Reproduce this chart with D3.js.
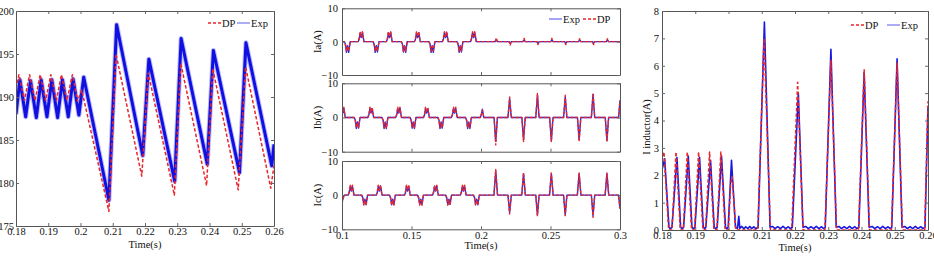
<!DOCTYPE html>
<html>
<head>
<meta charset="utf-8">
<script src="https://cdn.jsdelivr.net/npm/d3@7"></script>
<style>
  body { margin: 0; background: #fff; }
  svg { display: block; }
</style>
</head>
<body>
<svg id="chart" width="934" height="256"></svg>
<script>
// ---- data ----

// left panel: voltage, [time, value]
var leftXTicks = [0.18, 0.19, 0.2, 0.21, 0.22, 0.23, 0.24, 0.25, 0.26];
var leftYTicks = [175, 180, 185, 190, 195, 200];
var leftDP = [[0.1800,191.0],[0.1809,192.6],[0.1826,189.6],[0.1842,192.6],[0.1859,189.6],[0.1875,192.6],
  [0.1892,189.6],[0.1908,192.6],[0.1925,189.6],[0.1941,192.6],[0.1958,189.6],[0.1975,192.6],[0.1991,189.5],
  [0.2004,190.8],[0.2088,176.7],[0.2110,195.0],[0.2190,180.8],[0.2210,192.8],[0.2291,178.6],[0.2311,193.9],
  [0.2391,179.7],[0.2410,193.3],[0.2489,179.2],[0.2512,193.5],[0.2590,179.4],[0.2600,182.0]];
var leftExp = [[0.1800,188.0],[0.1812,192.0],[0.1830,187.7],[0.1845,191.9],[0.1863,187.6],[0.1878,192.0],
  [0.1896,187.7],[0.1911,192.0],[0.1929,187.6],[0.1944,192.0],[0.1962,187.7],[0.1977,192.1],[0.1995,187.9],
  [0.2010,192.3],[0.2088,178.0],[0.2112,198.4],[0.2193,183.2],[0.2212,194.4],[0.2292,180.2],[0.2312,196.8],
  [0.2393,182.2],[0.2412,195.4],[0.2493,181.2],[0.2513,196.3],[0.2593,182.0],[0.2600,184.5]];

// middle panel: phase currents, shared time + two series each
var midXTicks = [0.1, 0.15, 0.2, 0.25, 0.3];
var midYTicks = [-10, 0, 10];
var iaTime = [0.1000,
  0.1017,0.1025,0.1032,0.1040,0.1048,0.1059, 0.1116,0.1124,0.1131,0.1139,0.1147,0.1158,
  0.1224,0.1232,0.1239,0.1247,0.1255,0.1266, 0.1319,0.1327,0.1334,0.1342,0.1350,0.1361,
  0.1427,0.1435,0.1442,0.1450,0.1458,0.1469, 0.1521,0.1529,0.1536,0.1544,0.1552,0.1563,
  0.1626,0.1634,0.1641,0.1649,0.1657,0.1668, 0.1722,0.1730,0.1737,0.1745,0.1753,0.1764,
  0.1828,0.1836,0.1843,0.1851,0.1859,0.1870, 0.1924,0.1932,0.1939,0.1947,0.1955,0.1966,
  0.2102,0.2110,0.2118, 0.2202,0.2210,0.2218, 0.2302,0.2310,0.2318, 0.2402,0.2410,0.2418,
  0.2502,0.2510,0.2518, 0.2602,0.2610,0.2618, 0.2702,0.2710,0.2718, 0.2802,0.2810,0.2818,
  0.2902,0.2910,0.2918, 0.3000];
var iaDP = [0,
  0,-1,-2.8,-1.4,-2.8,0, 0,1,3,1.5,3,0,
  0,-1,-2.8,-1.4,-2.8,0, 0,1,3,1.5,3,0,
  0,-1,-2.8,-1.4,-2.8,0, 0,1,3,1.5,3,0,
  0,-1,-2.8,-1.4,-2.8,0, 0,1,3,1.5,3,0,
  0,-1,-2.8,-1.4,-2.8,0, 0,1,3,1.5,3,0,
  0,1.1,0, 0,-1,0, 0,1,0, 0,-0.9,0, 0,1,0, 0,-0.9,0, 0,0.9,0, 0,-0.9,0, 0,0.9,0, 0];
var iaExp = [0,
  0,-0.8,-3.2,-1.2,-3.2,0, 0,0.8,2.6,1.2,2.8,0,
  0,-0.8,-3.2,-1.2,-3.1,0, 0,0.8,2.7,1.2,2.8,0,
  0,-0.8,-3.1,-1.2,-3.2,0, 0,0.8,2.6,1.2,2.7,0,
  0,-0.8,-3.2,-1.2,-3.2,0, 0,0.8,2.6,1.2,2.8,0,
  0,-0.8,-3.2,-1.2,-3.1,0, 0,0.8,2.7,1.2,2.8,0,
  0,0.6,0, 0,-0.5,0, 0,0.5,0, 0,-0.5,0, 0,0.5,0, 0,-0.5,0, 0,0.5,0, 0,-0.5,0, 0,0.5,0, 0];

var ibTime = [0.1000,0.1005,0.1013,0.1024,
  0.1088,0.1096,0.1103,0.1111,0.1119,0.1130, 0.1186,0.1194,0.1201,0.1209,0.1217,0.1228,
  0.1288,0.1296,0.1303,0.1311,0.1319,0.1330, 0.1386,0.1394,0.1401,0.1409,0.1417,0.1428,
  0.1490,0.1498,0.1505,0.1513,0.1521,0.1532, 0.1586,0.1594,0.1601,0.1609,0.1617,0.1628,
  0.1690,0.1698,0.1705,0.1713,0.1721,0.1732, 0.1787,0.1795,0.1802,0.1810,0.1818,0.1829,
  0.1889,0.1897,0.1904,0.1912,0.1920,0.1931, 0.1995,0.2003,0.2010,0.2020,
  0.2094,0.2106,0.2118, 0.2194,0.2206,0.2218, 0.2294,0.2306,0.2318, 0.2394,0.2406,0.2418,
  0.2494,0.2506,0.2518, 0.2594,0.2606,0.2618, 0.2694,0.2706,0.2718, 0.2794,0.2806,0.2818,
  0.2894,0.2906,0.2918, 0.2990,0.3000];
var ibDP = [2.8,1.5,3,0,
  0,-1,-3,-1.5,-3,0, 0,1,3,1.5,3,0,
  0,-1,-3,-1.5,-3,0, 0,1,3,1.5,3,0,
  0,-1,-3,-1.5,-3,0, 0,1,3,1.5,3,0,
  0,-1,-3,-1.5,-3,0, 0,1,3,1.5,3,0,
  0,-1,-3,-1.5,-3,0, 0,1,2.2,0,
  0,-8,0, 0,6,0, 0,-7,0, 0,7,0, 0,-7,0, 0,6.5,0, 0,-7,0, 0,7,0, 0,-7,0, 0,5];
var ibExp = [2.5,1.2,2.7,0,
  0,-0.8,-3.2,-1.3,-3.1,0, 0,0.8,2.7,1.3,2.6,0,
  0,-0.8,-3.2,-1.3,-3.2,0, 0,0.8,2.6,1.3,2.7,0,
  0,-0.8,-3.1,-1.3,-3.2,0, 0,0.8,2.7,1.3,2.6,0,
  0,-0.8,-3.2,-1.3,-3.1,0, 0,0.8,2.6,1.3,2.7,0,
  0,-0.8,-3.2,-1.3,-3.2,0, 0,0.9,2.4,0,
  0,-7,0, 0,5.5,0, 0,-6.5,0, 0,6.5,0, 0,-6.8,0, 0,6,0, 0,-6.5,0, 0,6.8,0, 0,-6.8,0, 0,5];

var icTime = [0.1000,0.1008,0.1016,
  0.1044,0.1052,0.1059,0.1067,0.1075,0.1086, 0.1142,0.1150,0.1157,0.1165,0.1173,0.1184,
  0.1246,0.1254,0.1261,0.1269,0.1277,0.1288, 0.1342,0.1350,0.1357,0.1365,0.1373,0.1384,
  0.1449,0.1457,0.1464,0.1472,0.1480,0.1491, 0.1544,0.1552,0.1559,0.1567,0.1575,0.1586,
  0.1651,0.1659,0.1666,0.1674,0.1682,0.1693, 0.1746,0.1754,0.1761,0.1769,0.1777,0.1788,
  0.1851,0.1859,0.1866,0.1874,0.1882,0.1893, 0.1946,0.1954,0.1961,0.1969,0.1977,0.1988,
  0.2093,0.2106,0.2119, 0.2194,0.2206,0.2218, 0.2293,0.2306,0.2319, 0.2394,0.2406,0.2418,
  0.2493,0.2506,0.2519, 0.2594,0.2606,0.2618, 0.2693,0.2706,0.2719, 0.2794,0.2806,0.2818,
  0.2893,0.2906,0.2919, 0.2990,0.3000];
var icDP = [-2.5,-1,0,
  0,1,2.9,1.4,2.9,0, 0,-1,-2.9,-1.4,-2.9,0,
  0,1,2.9,1.4,2.9,0, 0,-1,-2.9,-1.4,-2.9,0,
  0,1,2.9,1.4,2.9,0, 0,-1,-2.9,-1.4,-2.9,0,
  0,1,2.9,1.4,2.9,0, 0,-1,-2.9,-1.4,-2.9,0,
  0,1,2.9,1.4,2.9,0, 0,-1,-2.9,-1.4,-2.9,0,
  0,7.5,0, 0,-5.5,0, 0,6.5,0, 0,-6,0, 0,6.5,0, 0,-6,0, 0,6.5,0, 0,-6.5,0, 0,6.5,0, 0,-4];
var icExp = [-2.2,-0.8,0,
  0,0.8,2.6,1.2,2.6,0, 0,-0.8,-2.7,-1.2,-2.8,0,
  0,0.8,2.6,1.2,2.7,0, 0,-0.8,-2.8,-1.2,-2.7,0,
  0,0.8,2.7,1.2,2.6,0, 0,-0.8,-2.7,-1.2,-2.8,0,
  0,0.8,2.6,1.2,2.6,0, 0,-0.8,-2.8,-1.2,-2.7,0,
  0,0.8,2.6,1.2,2.7,0, 0,-0.8,-2.7,-1.2,-2.8,0,
  0,7,0, 0,-5,0, 0,6.3,0, 0,-5.8,0, 0,6.3,0, 0,-5.8,0, 0,6.3,0, 0,-6,0, 0,6.3,0, 0,-4];

// right panel: inductor current, [time, value]
var rightXTicks = [0.18, 0.19, 0.2, 0.21, 0.22, 0.23, 0.24, 0.25, 0.26];
var rightYTicks = [0, 1, 2, 3, 4, 5, 6, 7, 8];
var rightDP = [[0.1800,2.5],[0.1806,2.85],[0.1820,0],[0.1830,0],[0.1842,2.85],[0.1855,0],[0.1864,0],
  [0.1876,2.85],[0.1889,0],[0.1898,0],[0.1910,2.85],[0.1923,0],[0.1931,0],[0.1943,2.85],[0.1956,0],
  [0.1965,0],[0.1977,2.85],[0.1990,0],[0.2000,0],[0.2006,1.6],[0.2011,1.95],[0.2022,0],[0.2088,0],
  [0.2107,7.0],[0.2126,0],[0.2190,0],[0.2208,5.4],[0.2224,0],[0.2290,0],[0.2308,6.2],[0.2325,0],
  [0.2391,0],[0.2408,5.85],[0.2424,0],[0.2490,0],[0.2507,6.1],[0.2523,0],[0.2590,0],[0.2600,4.7]];
var rightExp = [[0.1800,2.2],[0.1808,2.6],[0.1821,0.1],[0.1825,0.05],[0.1830,0.1],[0.1845,2.65],[0.1856,0.1],
  [0.1861,0.05],[0.1865,0.1],[0.1879,2.7],[0.1890,0.1],[0.1895,0.05],[0.1899,0.1],[0.1913,2.65],[0.1924,0.12],
  [0.1928,0.05],[0.1932,0.1],[0.1946,2.55],[0.1957,0.1],[0.1961,0.05],[0.1966,0.1],[0.1979,2.7],[0.1991,0.1],
  [0.1995,0.05],[0.1999,0.1],[0.2009,2.55],[0.2021,0.1],[0.2027,0.06],[0.2031,0.5],[0.2034,0.06],[0.2040,0.13],
  [0.2046,0.05],[0.2052,0.12],[0.2058,0.05],[0.2064,0.13],[0.2070,0.05],[0.2076,0.12],[0.2082,0.05],[0.2089,0.1],
  [0.2108,7.6],[0.2125,0.1],[0.2132,0.13],[0.2140,0.05],[0.2148,0.12],[0.2156,0.05],[0.2164,0.13],[0.2172,0.05],
  [0.2180,0.12],[0.2186,0.05],[0.2192,0.1],[0.2210,5.0],[0.2224,0.1],[0.2232,0.13],[0.2240,0.05],[0.2248,0.12],
  [0.2256,0.05],[0.2264,0.13],[0.2272,0.05],[0.2280,0.12],[0.2286,0.05],[0.2291,0.1],[0.2308,6.6],[0.2324,0.1],
  [0.2332,0.13],[0.2340,0.05],[0.2348,0.12],[0.2356,0.05],[0.2364,0.13],[0.2372,0.05],[0.2380,0.12],[0.2386,0.05],
  [0.2392,0.1],[0.2408,5.75],[0.2423,0.1],[0.2432,0.13],[0.2440,0.05],[0.2448,0.12],[0.2456,0.05],[0.2464,0.13],
  [0.2472,0.05],[0.2480,0.12],[0.2486,0.05],[0.2491,0.1],[0.2507,6.25],[0.2522,0.1],[0.2530,0.13],[0.2538,0.05],
  [0.2546,0.12],[0.2554,0.05],[0.2562,0.13],[0.2570,0.05],[0.2578,0.12],[0.2585,0.05],[0.2591,0.1],[0.2600,4.5]];

// ---- drawing ----
var FONT = "Liberation Serif, Times New Roman, serif";
var FS = 10.5;
var RED = "#e8262b", BLUE = "#1010e0";
var svg = d3.select("#chart");
svg.append("rect").attr("width", 934).attr("height", 256).attr("fill", "#fff");

var clipId = 0;

// box with inward ticks on all four sides, MATLAB style
function frame(x, y, xTicks, yTicks, showX, yPad) {
    var r = x.range(), d = y.range();
    var g = svg.append("g");
    g.append("g").attr("transform", "translate(0," + d[0] + ")")
        .call(d3.axisBottom(x).tickValues(xTicks).tickSize(-3).tickSizeOuter(0).tickPadding(2)
              .tickFormat(showX ? function(v) { return String(v); } : ""));
    g.append("g").attr("transform", "translate(0," + d[1] + ")")
        .call(d3.axisTop(x).tickValues(xTicks).tickSize(-3).tickSizeOuter(0).tickFormat(""));
    g.append("g").attr("transform", "translate(" + r[0] + ",0)")
        .call(d3.axisLeft(y).tickValues(yTicks).tickSize(-3).tickSizeOuter(0).tickPadding(yPad));
    g.append("g").attr("transform", "translate(" + r[1] + ",0)")
        .call(d3.axisRight(y).tickValues(yTicks).tickSize(-3).tickSizeOuter(0).tickFormat(""));
    g.selectAll("path.domain").attr("stroke", "#555");
    g.selectAll(".tick line").attr("stroke", "#666");
    g.selectAll("text").attr("font-family", FONT).attr("font-size", FS).attr("fill", "#111");
    return g;
}

function clip(x, y) {
    var id = "clip" + (clipId++);
    svg.append("clipPath").attr("id", id).append("rect")
        .attr("x", x.range()[0]).attr("y", y.range()[1])
        .attr("width", x.range()[1] - x.range()[0]).attr("height", y.range()[0] - y.range()[1]);
    return "url(#" + id + ")";
}

function trace(x, y, pts, cp, color, w, dash, op) {
    var line = d3.line().x(function(p) { return x(p[0]); }).y(function(p) { return y(p[1]); });
    svg.append("path").datum(pts).attr("d", line).attr("clip-path", cp)
        .attr("fill", "none").attr("stroke", color).attr("stroke-width", w)
        .attr("stroke-linejoin", "round").attr("stroke-dasharray", dash || null)
        .attr("opacity", op || 1);
}

function legend(x0, y0, items) {
    var g = svg.append("g").attr("transform", "translate(" + x0 + "," + y0 + ")");
    var cx = 0;
    items.forEach(function(it) {
        g.append("line").attr("x1", cx).attr("x2", cx + 13).attr("y1", 0).attr("y2", 0)
            .attr("stroke", it.color).attr("stroke-width", it.dash ? 1.5 : 1)
            .attr("stroke-dasharray", it.dash || null);
        g.append("text").attr("x", cx + 14).attr("y", 4).text(it.name)
            .attr("font-family", FONT).attr("font-size", FS).attr("fill", "#111");
        cx += it.step;
    });
}

function label(txt, x, y, rot) {
    svg.append("text").attr("transform", "translate(" + x + "," + y + ")" + (rot ? " rotate(-90)" : ""))
        .attr("text-anchor", "middle").attr("font-family", FONT).attr("font-size", FS)
        .attr("fill", "#111").text(txt);
}

function zip(t, v) { return t.map(function(ti, i) { return [ti, v[i]]; }); }

// left panel
var xL = d3.scaleLinear().domain([0.18, 0.26]).range([16, 274]);
var yL = d3.scaleLinear().domain([175, 200]).range([226, 11]);
var cL = clip(xL, yL);
trace(xL, yL, leftExp, cL, "#8a8aff", 5, null, 0.6);
trace(xL, yL, leftExp, cL, BLUE, 3);
trace(xL, yL, leftDP, cL, RED, 1.5, "3.5,2");
frame(xL, yL, leftXTicks, leftYTicks, true, 2);
legend(208, 23, [{name: "DP", color: RED, dash: "3,2", step: 29}, {name: "Exp", color: "#5a5aee"}]);
label("Time(s)", 145, 248);

// middle panel: three stacked subplots
var xM = d3.scaleLinear().domain([0.1, 0.3]).range([342, 620]);
var rows = [
    {name: "Ia(A)", top: 8.3, bottom: 75, t: iaTime, exp: iaExp, dp: iaDP},
    {name: "Ib(A)", top: 83.3, bottom: 151.7, t: ibTime, exp: ibExp, dp: ibDP},
    {name: "Ic(A)", top: 161, bottom: 229.3, t: icTime, exp: icExp, dp: icDP}
];
rows.forEach(function(row, i) {
    var yM = d3.scaleLinear().domain([-10, 10]).range([row.bottom, row.top]);
    var cM = clip(xM, yM);
    trace(xM, yM, zip(row.t, row.exp), cM, "#2a2ad8", 1.4);
    trace(xM, yM, zip(row.t, row.dp), cM, RED, 1.4, "3,1.5");
    frame(xM, yM, midXTicks, midYTicks, i === 2, 4);
    label(row.name, 321, (row.top + row.bottom) / 2, true);
});
legend(549, 19, [{name: "Exp", color: "#4b4be6", step: 34}, {name: "DP", color: RED, dash: "3,2"}]);
label("Time(s)", 481, 249);

// right panel
var xR = d3.scaleLinear().domain([0.18, 0.26]).range([662, 928]);
var yR = d3.scaleLinear().domain([0, 8]).range([230, 11]);
var cR = clip(xR, yR);
trace(xR, yR, rightExp, cR, "#1818e0", 1.6);
trace(xR, yR, rightDP, cR, RED, 1.5, "3.5,2");
frame(xR, yR, rightXTicks, rightYTicks, true, 3);
legend(851, 25, [{name: "DP", color: RED, dash: "3,2", step: 36}, {name: "Exp", color: "#5a5aee"}]);
label("I inductor(A)", 650, 127, true);
label("Time(s)", 795, 251);
</script>
</body>
</html>
